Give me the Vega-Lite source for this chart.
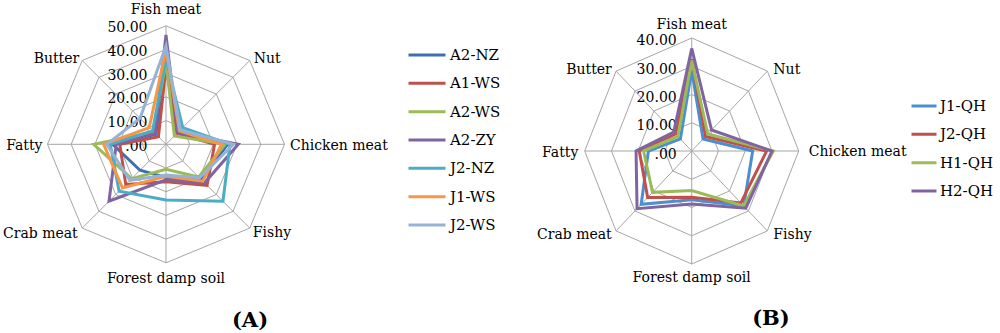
{
  "$schema": "https://vega.github.io/schema/vega-lite/v6.json",
  "padding": 0,
  "spacing": 0,
  "background": "white",
  "config": {
    "view": {"stroke": null},
    "font": "DejaVu Serif",
    "text": {"font": "DejaVu Serif", "fontSize": 14, "color": "black"},
    "title": {"font": "DejaVu Serif", "color": "black"},
    "legend": {"labelFont": "DejaVu Serif"}
  },
  "datasets": {
    "axesA": [
      {"attr": "Fish meat", "idx": 0, "levels": [10, 20, 30, 40, 50]},
      {"attr": "Nut", "idx": 1, "levels": [10, 20, 30, 40, 50]},
      {"attr": "Chicken meat", "idx": 2, "levels": [10, 20, 30, 40, 50]},
      {"attr": "Fishy", "idx": 3, "levels": [10, 20, 30, 40, 50]},
      {"attr": "Forest damp soil", "idx": 4, "levels": [10, 20, 30, 40, 50]},
      {"attr": "Crab meat", "idx": 5, "levels": [10, 20, 30, 40, 50]},
      {"attr": "Fatty", "idx": 6, "levels": [10, 20, 30, 40, 50]},
      {"attr": "Butter", "idx": 7, "levels": [10, 20, 30, 40, 50]}
    ],
    "axesB": [
      {"attr": "Fish meat", "idx": 0, "levels": [10, 20, 30, 40]},
      {"attr": "Nut", "idx": 1, "levels": [10, 20, 30, 40]},
      {"attr": "Chicken meat", "idx": 2, "levels": [10, 20, 30, 40]},
      {"attr": "Fishy", "idx": 3, "levels": [10, 20, 30, 40]},
      {"attr": "Forest damp soil", "idx": 4, "levels": [10, 20, 30, 40]},
      {"attr": "Crab meat", "idx": 5, "levels": [10, 20, 30, 40]},
      {"attr": "Fatty", "idx": 6, "levels": [10, 20, 30, 40]},
      {"attr": "Butter", "idx": 7, "levels": [10, 20, 30, 40]}
    ],
    "ticksA": [
      {"v": 0, "label": ".00"}, {"v": 10, "label": "10.00"}, {"v": 20, "label": "20.00"},
      {"v": 30, "label": "30.00"}, {"v": 40, "label": "40.00"}, {"v": 50, "label": "50.00"}
    ],
    "ticksB": [
      {"v": 0, "label": ".00"}, {"v": 10, "label": "10.00"}, {"v": 20, "label": "20.00"},
      {"v": 30, "label": "30.00"}, {"v": 40, "label": "40.00"}
    ],
    "scoresA": [
      {"series": "A2-NZ", "Fish meat": 37, "Nut": 8, "Chicken meat": 26, "Fishy": 21, "Forest damp soil": 14, "Crab meat": 15.5, "Fatty": 22.5, "Butter": 6},
      {"series": "A1-WS", "Fish meat": 33, "Nut": 6.5, "Chicken meat": 20.5, "Fishy": 24.5, "Forest damp soil": 15.8, "Crab meat": 24, "Fatty": 19.5, "Butter": 4.5},
      {"series": "A2-WS", "Fish meat": 35, "Nut": 5, "Chicken meat": 25, "Fishy": 19.5, "Forest damp soil": 10.5, "Crab meat": 20.5, "Fatty": 30.5, "Butter": 7.5},
      {"series": "A2-ZY", "Fish meat": 46.2, "Nut": 7, "Chicken meat": 30.5, "Fishy": 23, "Forest damp soil": 15, "Crab meat": 34, "Fatty": 21, "Butter": 6.5},
      {"series": "J2-NZ", "Fish meat": 36, "Nut": 10, "Chicken meat": 27, "Fishy": 34, "Forest damp soil": 23.5, "Crab meat": 28, "Fatty": 23.5, "Butter": 8},
      {"series": "J1-WS", "Fish meat": 40, "Nut": 8, "Chicken meat": 23.5, "Fishy": 22, "Forest damp soil": 13.5, "Crab meat": 26, "Fatty": 26.3, "Butter": 10},
      {"series": "J2-WS", "Fish meat": 41.5, "Nut": 8.5, "Chicken meat": 28.5, "Fishy": 20, "Forest damp soil": 13, "Crab meat": 21.5, "Fatty": 25, "Butter": 15.5}
    ],
    "scoresB": [
      {"series": "J1-QH", "Fish meat": 28.5, "Nut": 6, "Chicken meat": 22.8, "Fishy": 27.5, "Forest damp soil": 17.3, "Crab meat": 26.7, "Fatty": 16.2, "Butter": 6},
      {"series": "J2-QH", "Fish meat": 32.5, "Nut": 7.3, "Chicken meat": 28, "Fishy": 26, "Forest damp soil": 16.4, "Crab meat": 23.3, "Fatty": 19.6, "Butter": 8.5},
      {"series": "H1-QH", "Fish meat": 32, "Nut": 8.5, "Chicken meat": 30.5, "Fishy": 27.5, "Forest damp soil": 14, "Crab meat": 20.7, "Fatty": 18, "Butter": 7.3},
      {"series": "H2-QH", "Fish meat": 36.3, "Nut": 10.5, "Chicken meat": 30, "Fishy": 28.6, "Forest damp soil": 18.8, "Crab meat": 28.9, "Fatty": 20.8, "Butter": 9.5}
    ]
  },
  "resolve": {"scale": {"color": "independent"}, "legend": {"color": "independent"}},
  "hconcat": [
    {
      "width": 515,
      "height": 300,
      "title": {"text": "(A)", "orient": "bottom", "anchor": "middle", "font": "DejaVu Serif", "fontSize": 21, "fontWeight": "bold", "dx": -7.5, "offset": 10},
      "encoding": {
        "x": {"field": "x", "type": "quantitative", "axis": null, "scale": {"domain": [-70.04, 147.26], "nice": false, "zero": false}},
        "y": {"field": "y", "type": "quantitative", "axis": null, "scale": {"domain": [-65.7, 60.89], "nice": false, "zero": false}}
      },
      "layer": [
        {
          "data": {"name": "axesA"},
          "transform": [
            {"flatten": ["levels"], "as": ["level"]},
            {"calculate": "datum.level*sin(datum.idx*PI/4)", "as": "x"},
            {"calculate": "datum.level*cos(datum.idx*PI/4)", "as": "y"}
          ],
          "mark": {"type": "line", "interpolate": "linear-closed", "stroke": "#A6A6A6", "strokeWidth": 1},
          "encoding": {"detail": {"field": "level", "type": "nominal"}, "order": {"field": "idx", "type": "quantitative"}}
        },
        {
          "data": {"name": "axesA"},
          "transform": [
            {"calculate": "peek(datum.levels)*sin(datum.idx*PI/4)", "as": "x"},
            {"calculate": "peek(datum.levels)*cos(datum.idx*PI/4)", "as": "y"}
          ],
          "layer": [
            {"mark": {"type": "rule", "stroke": "#A6A6A6", "strokeWidth": 1}, "encoding": {"x2": {"datum": 0}, "y2": {"datum": 0}}},
            {"transform": [{"filter": "datum.idx==0"}], "mark": {"type": "text", "align": "center", "baseline": "middle", "dy": -16}, "encoding": {"text": {"field": "attr"}}},
            {"transform": [{"filter": "datum.idx==1"}], "mark": {"type": "text", "align": "left", "baseline": "middle", "dx": 4, "dy": -2}, "encoding": {"text": {"field": "attr"}}},
            {"transform": [{"filter": "datum.idx==2"}], "mark": {"type": "text", "align": "left", "baseline": "middle", "dx": 5.5, "dy": 1.5}, "encoding": {"text": {"field": "attr"}}},
            {"transform": [{"filter": "datum.idx==3"}], "mark": {"type": "text", "align": "left", "baseline": "middle", "dx": 3, "dy": 4.5}, "encoding": {"text": {"field": "attr"}}},
            {"transform": [{"filter": "datum.idx==4"}], "mark": {"type": "text", "align": "center", "baseline": "middle", "dy": 16}, "encoding": {"text": {"field": "attr"}}},
            {"transform": [{"filter": "datum.idx==5"}], "mark": {"type": "text", "align": "right", "baseline": "middle", "dx": -4.5, "dy": 5.5}, "encoding": {"text": {"field": "attr"}}},
            {"transform": [{"filter": "datum.idx==6"}], "mark": {"type": "text", "align": "right", "baseline": "middle", "dx": -5, "dy": 1.7}, "encoding": {"text": {"field": "attr"}}},
            {"transform": [{"filter": "datum.idx==7"}], "mark": {"type": "text", "align": "right", "baseline": "middle", "dx": -3, "dy": -1.5}, "encoding": {"text": {"field": "attr"}}}
          ]
        },
        {
          "data": {"name": "ticksA"},
          "transform": [
            {"calculate": "0", "as": "x"},
            {"calculate": "datum.v", "as": "y"}
          ],
          "mark": {"type": "text", "align": "right", "baseline": "middle", "dx": -18.5, "dy": 2.5, "fontSize": 14},
          "encoding": {"text": {"field": "label"}}
        },
        {
          "data": {"name": "scoresA"},
          "transform": [
            {"fold": ["Fish meat", "Nut", "Chicken meat", "Fishy", "Forest damp soil", "Crab meat", "Fatty", "Butter"], "as": ["attr", "value"]},
            {"lookup": "attr", "from": {"data": {"name": "axesA"}, "key": "attr", "fields": ["idx"]}},
            {"calculate": "datum.value*sin(datum.idx*PI/4)", "as": "x"},
            {"calculate": "datum.value*cos(datum.idx*PI/4)", "as": "y"}
          ],
          "mark": {"type": "line", "interpolate": "linear-closed", "strokeWidth": 3},
          "encoding": {
            "color": {
              "field": "series", "type": "nominal",
              "scale": {"domain": ["A2-NZ", "A1-WS", "A2-WS", "A2-ZY", "J2-NZ", "J1-WS", "J2-WS"], "range": ["#3F6FB0", "#C0504D", "#9BBB59", "#8064A2", "#4BACC6", "#F79646", "#95B3D7"]},
              "legend": {"orient": "none", "legendX": 407, "legendY": 45, "title": null, "symbolType": "stroke", "symbolSize": 1369, "symbolStrokeWidth": 3, "clipHeight": 20, "rowPadding": 8.33, "labelFont": "DejaVu Serif", "labelFontSize": 15, "labelColor": "black", "labelOffset": 3, "padding": 0}
            },
            "order": {"field": "idx", "type": "quantitative"}
          }
        }
      ]
    },
    {
      "width": 485,
      "height": 300,
      "title": {"text": "(B)", "orient": "bottom", "anchor": "middle", "font": "DejaVu Serif", "fontSize": 21, "fontWeight": "bold", "dx": 13.5, "offset": 8},
      "encoding": {
        "x": {"field": "x", "type": "quantitative", "axis": null, "scale": {"domain": [-66.06, 115.25], "nice": false, "zero": false}},
        "y": {"field": "y", "type": "quantitative", "axis": null, "scale": {"domain": [-52.74, 53.45], "nice": false, "zero": false}}
      },
      "layer": [
        {
          "data": {"name": "axesB"},
          "transform": [
            {"flatten": ["levels"], "as": ["level"]},
            {"calculate": "datum.level*sin(datum.idx*PI/4)", "as": "x"},
            {"calculate": "datum.level*cos(datum.idx*PI/4)", "as": "y"}
          ],
          "mark": {"type": "line", "interpolate": "linear-closed", "stroke": "#A6A6A6", "strokeWidth": 1},
          "encoding": {"detail": {"field": "level", "type": "nominal"}, "order": {"field": "idx", "type": "quantitative"}}
        },
        {
          "data": {"name": "axesB"},
          "transform": [
            {"calculate": "peek(datum.levels)*sin(datum.idx*PI/4)", "as": "x"},
            {"calculate": "peek(datum.levels)*cos(datum.idx*PI/4)", "as": "y"}
          ],
          "layer": [
            {"mark": {"type": "rule", "stroke": "#A6A6A6", "strokeWidth": 1}, "encoding": {"x2": {"datum": 0}, "y2": {"datum": 0}}},
            {"transform": [{"filter": "datum.idx==0"}], "mark": {"type": "text", "align": "center", "baseline": "middle", "dy": -12.5}, "encoding": {"text": {"field": "attr"}}},
            {"transform": [{"filter": "datum.idx==1"}], "mark": {"type": "text", "align": "left", "baseline": "middle", "dx": 6, "dy": -1}, "encoding": {"text": {"field": "attr"}}},
            {"transform": [{"filter": "datum.idx==2"}], "mark": {"type": "text", "align": "left", "baseline": "middle", "dx": 10, "dy": 0.7}, "encoding": {"text": {"field": "attr"}}},
            {"transform": [{"filter": "datum.idx==3"}], "mark": {"type": "text", "align": "left", "baseline": "middle", "dx": 6, "dy": 4}, "encoding": {"text": {"field": "attr"}}},
            {"transform": [{"filter": "datum.idx==4"}], "mark": {"type": "text", "align": "center", "baseline": "middle", "dy": 14}, "encoding": {"text": {"field": "attr"}}},
            {"transform": [{"filter": "datum.idx==5"}], "mark": {"type": "text", "align": "right", "baseline": "middle", "dx": -4.3, "dy": 4}, "encoding": {"text": {"field": "attr"}}},
            {"transform": [{"filter": "datum.idx==6"}], "mark": {"type": "text", "align": "right", "baseline": "middle", "dx": -6.4, "dy": 2}, "encoding": {"text": {"field": "attr"}}},
            {"transform": [{"filter": "datum.idx==7"}], "mark": {"type": "text", "align": "right", "baseline": "middle", "dx": -4.3, "dy": -1}, "encoding": {"text": {"field": "attr"}}}
          ]
        },
        {
          "data": {"name": "ticksB"},
          "transform": [
            {"calculate": "0", "as": "x"},
            {"calculate": "datum.v", "as": "y"}
          ],
          "mark": {"type": "text", "align": "right", "baseline": "middle", "dx": -15, "dy": 3.5, "fontSize": 14},
          "encoding": {"text": {"field": "label"}}
        },
        {
          "data": {"name": "scoresB"},
          "transform": [
            {"fold": ["Fish meat", "Nut", "Chicken meat", "Fishy", "Forest damp soil", "Crab meat", "Fatty", "Butter"], "as": ["attr", "value"]},
            {"lookup": "attr", "from": {"data": {"name": "axesB"}, "key": "attr", "fields": ["idx"]}},
            {"calculate": "datum.value*sin(datum.idx*PI/4)", "as": "x"},
            {"calculate": "datum.value*cos(datum.idx*PI/4)", "as": "y"}
          ],
          "mark": {"type": "line", "interpolate": "linear-closed", "strokeWidth": 3},
          "encoding": {
            "color": {
              "field": "series", "type": "nominal",
              "scale": {"domain": ["J1-QH", "J2-QH", "H1-QH", "H2-QH"], "range": ["#4A8FD0", "#C0504D", "#9BBB59", "#8064A2"]},
              "legend": {"orient": "none", "legendX": 395, "legendY": 96, "title": null, "symbolType": "stroke", "symbolSize": 625, "symbolStrokeWidth": 3, "clipHeight": 20, "rowPadding": 8.33, "labelFont": "DejaVu Serif", "labelFontSize": 15, "labelColor": "black", "labelOffset": 2, "padding": 0}
            },
            "order": {"field": "idx", "type": "quantitative"}
          }
        }
      ]
    }
  ]
}
